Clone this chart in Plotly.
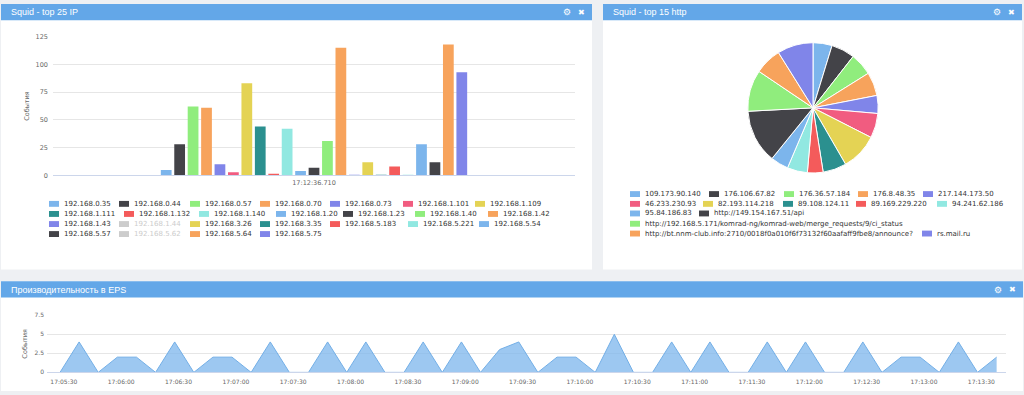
import plotly.graph_objects as go

# ---------------- data ----------------
ip_category = ["17:12:36.710"]
ip_labels = ["192.168.0.35", "192.168.0.44", "192.168.0.57", "192.168.0.70", "192.168.0.73",
             "192.168.1.101", "192.168.1.109", "192.168.1.111", "192.168.1.132", "192.168.1.140",
             "192.168.1.20", "192.168.1.23", "192.168.1.40", "192.168.1.42", "192.168.1.43",
             "192.168.1.44", "192.168.3.26", "192.168.3.35", "192.168.5.183", "192.168.5.221",
             "192.168.5.54", "192.168.5.57", "192.168.5.62", "192.168.5.64", "192.168.5.75"]
ip_values = [5, 28, 62, 61, 10, 3, 83, 44, 1, 42, 4, 7, 31, 115, 0.6, 2, 12, 0.6, 8, 0.4, 28, 12, 1, 118, 93]
ip_hidden = ["192.168.1.44", "192.168.5.62"]

http_labels = ["109.173.90.140", "176.106.67.82", "176.36.57.184", "176.8.48.35", "217.144.173.50",
               "46.233.230.93", "82.193.114.218", "89.108.124.11", "89.169.229.220", "94.241.62.186",
               "95.84.186.83", "http://149.154.167.51/api",
               "http://192.168.5.171/komrad-ng/komrad-web/merge_requests/9/ci_status",
               "http://bt.nnm-club.info:2710/0018f0a010f6f73132f60aafaff9fbe8/announce?",
               "rs.mail.ru"]
http_values = [17, 21, 20, 21, 16, 22, 33, 21, 14, 18, 16, 48, 37, 24, 32]

eps_times = ["17:05:28", "17:05:38", "17:05:48", "17:05:58", "17:06:08", "17:06:18", "17:06:28",
             "17:06:38", "17:06:48", "17:06:58", "17:07:08", "17:07:18", "17:07:28", "17:07:38",
             "17:07:48", "17:07:58", "17:08:08", "17:08:18", "17:08:28", "17:08:38", "17:08:48",
             "17:08:58", "17:09:08", "17:09:18", "17:09:28", "17:09:38", "17:09:48", "17:09:58",
             "17:10:08", "17:10:18", "17:10:28", "17:10:38", "17:10:48", "17:10:58", "17:11:08",
             "17:11:18", "17:11:28", "17:11:38", "17:11:48", "17:11:58", "17:12:08", "17:12:18",
             "17:12:28", "17:12:38", "17:12:48", "17:12:58", "17:13:08", "17:13:18", "17:13:28",
             "17:13:38"]
eps_values = [0, 4, 0, 2, 2, 0, 4, 0, 2, 2,
              0, 4, 0, 0, 4, 0, 4, 0, 0, 4,
              0, 4, 0, 3, 4, 0, 2, 2, 0, 5,
              0, 0, 4, 0, 4, 0, 0, 4, 0, 4,
              0, 0, 4, 0, 2, 2, 0, 4, 0, 2]
eps_date = "2017-06-01"
eps_ticks = [0, 2.5, 5, 7.5]

# ---------------- styles / layout ----------------
W, H = 1024, 395
PALETTE = ["#7cb5ec", "#434348", "#90ed7d", "#f7a35c", "#8085e9",
           "#f15c80", "#e4d354", "#2b908f", "#f45b5b", "#91e8e1"]
HIDDEN_COLOR = "#cccccc"
HEADER_COLOR = "#63a7e8"
BG_COLOR = "#eef0f3"
FONT = "DejaVu Sans"
TITLE_FONT = "Liberation Sans"
TICK_COLOR = "#666666"
GRID_COLOR = "#e6e6e6"


def fx(px):
    return px / W


def fy(py):
    return 1 - py / H


fig = go.Figure()

# bar chart (top 25 IP)
for i, (lab, val) in enumerate(zip(ip_labels, ip_values)):
    fig.add_trace(go.Bar(
        x=ip_category, y=[val], name=lab,
        marker=dict(color=PALETTE[i % 10], line=dict(width=0)),
        visible="legendonly" if lab in ip_hidden else True,
        showlegend=False, xaxis="x", yaxis="y",
        hovertemplate="%{y}<extra>" + lab + "</extra>",
    ))

# pie chart (top 15 http)
fig.add_trace(go.Pie(
    labels=http_labels, values=http_values, sort=False, direction="clockwise", rotation=0,
    marker=dict(colors=[PALETTE[i % 10] for i in range(len(http_labels))],
                line=dict(color="white", width=1)),
    textinfo="none", showlegend=False,
    domain=dict(x=[fx(747), fx(879)], y=[fy(172.5), fy(39.5)]),
))

# area chart (EPS)
fig.add_trace(go.Scatter(
    x=[eps_date + " " + t for t in eps_times], y=eps_values, mode="lines",
    fill="tozeroy", line=dict(color="#72aee6", width=1),
    fillcolor="rgba(124,181,236,0.75)", xaxis="x2", yaxis="y2", showlegend=False,
))

shapes = []
annotations = []

# panels
panels = [
    (1, 0, 592, 271, "Squid - top 25 IP"),
    (603, 0, 1022, 271, "Squid - top 15 http"),
    (1, 283, 1023, 395, "Производительность в EPS"),
]
for x0, y0, x1, y1, title in panels:
    shapes.append(dict(type="rect", xref="paper", yref="paper", layer="below",
                       x0=fx(x0), x1=fx(x1), y0=fy(y1), y1=fy(y0),
                       fillcolor="white", line=dict(width=0)))
    shapes.append(dict(type="rect", xref="paper", yref="paper", layer="below",
                       x0=fx(x0), x1=fx(x1), y0=fy(y0 + 16.5), y1=fy(y0),
                       fillcolor=HEADER_COLOR, line=dict(width=0)))
    annotations.append(dict(xref="paper", yref="paper", x=fx(x0 + 8), y=fy(y0 + 8.5),
                            xanchor="left", yanchor="middle", showarrow=False, text=title,
                            font=dict(family=TITLE_FONT, size=9, color="white")))
    annotations.append(dict(xref="paper", yref="paper", x=fx(x1 - 25), y=fy(y0 + 8.5),
                            xanchor="center", yanchor="middle", showarrow=False, text="⚙",
                            font=dict(family=FONT, size=9, color="white")))
    annotations.append(dict(xref="paper", yref="paper", x=fx(x1 - 11), y=fy(y0 + 8.5),
                            xanchor="center", yanchor="middle", showarrow=False, text="✖",
                            font=dict(family=FONT, size=8, color="white")))


def legend_item(sx, sy, label, color, text_color):
    shapes.append(dict(type="rect", xref="paper", yref="paper",
                       x0=fx(sx), x1=fx(sx + 10), y0=fy(sy + 3), y1=fy(sy - 3),
                       fillcolor=color, line=dict(width=0)))
    annotations.append(dict(xref="paper", yref="paper", x=fx(sx + 12.5), y=fy(sy),
                            xanchor="left", yanchor="middle", showarrow=False, text=label,
                            font=dict(family=FONT, size=7, color=text_color)))


# bar legend layout (rows)
ip_legend_rows = [
    (204.0, [49, 119, 190, 260, 330, 403, 475]),
    (214.3, [49, 124, 199, 276, 343, 415, 488]),
    (224.6, [49, 119, 190, 260, 330, 408, 479]),
    (234.8, [49, 119, 190, 260]),
]
k = 0
for ry, xs in ip_legend_rows:
    for sx in xs:
        lab = ip_labels[k]
        hidden = lab in ip_hidden
        legend_item(sx, ry, lab, HIDDEN_COLOR if hidden else PALETTE[k % 10],
                    HIDDEN_COLOR if hidden else "#333333")
        k += 1

# pie legend layout (rows)
http_legend_rows = [
    (194.0, [630, 709, 784, 858, 923]),
    (204.0, [630, 703, 783, 856, 937]),
    (213.8, [630, 699]),
    (224.3, [630]),
    (234.3, [630, 922]),
]
k = 0
for ry, xs in http_legend_rows:
    for sx in xs:
        legend_item(sx, ry, http_labels[k], PALETTE[k % 10], "#333333")
        k += 1

tickfont = dict(family=FONT, size=6.5, color=TICK_COLOR)

fig.update_layout(
    width=W, height=H, autosize=False,
    margin=dict(l=0, r=0, t=0, b=0, pad=0),
    paper_bgcolor=BG_COLOR, plot_bgcolor="rgba(0,0,0,0)",
    barmode="group", bargap=0.408, bargroupgap=0.2,
    showlegend=False,
    shapes=shapes, annotations=annotations,
    xaxis=dict(domain=[fx(53), fx(575)], anchor="y", type="category",
               showgrid=False, showline=True, linecolor="#ccd6eb", linewidth=1,
               ticks="", tickfont=tickfont, ticklabelstandoff=1, fixedrange=True),
    yaxis=dict(domain=[fy(175), fy(33.3)], anchor="x", range=[0, 125], dtick=25, tick0=0,
               showgrid=True, gridcolor=GRID_COLOR, gridwidth=1, zeroline=False, showline=False,
               ticks="", tickfont=tickfont, ticklabelstandoff=4, fixedrange=True,
               title=dict(text="События", font=dict(family=FONT, size=6.5, color=TICK_COLOR),
                          standoff=5)),
    xaxis2=dict(domain=[fx(47), fx(1006)], anchor="y2", type="date",
                range=[eps_date + " 17:05:21.2", eps_date + " 17:13:42.9"],
                dtick=30000, tick0=eps_date + " 17:05:30", tickformat="%H:%M:%S",
                showgrid=False, showline=True, linecolor="#ccd6eb", linewidth=1,
                ticks="", tickfont=dict(family=FONT, size=6, color=TICK_COLOR),
                ticklabelstandoff=3, fixedrange=True),
    yaxis2=dict(domain=[fy(376), fy(317.7)], anchor="x2", range=[0, 7.502],
                tickmode="array", tickvals=eps_ticks, ticktext=[f"{v:g}" for v in eps_ticks],
                showgrid=True, gridcolor=GRID_COLOR, gridwidth=1, zeroline=False, showline=False,
                ticks="", tickfont=dict(family=FONT, size=6, color=TICK_COLOR),
                ticklabelstandoff=2, fixedrange=True,
                title=dict(text="События", font=dict(family=FONT, size=6.5, color=TICK_COLOR),
                           standoff=6)),
)

fig.write_html("out.html", config={"displayModeBar": False},
               post_script="document.body.style.margin='0';document.body.style.overflow='hidden';")
